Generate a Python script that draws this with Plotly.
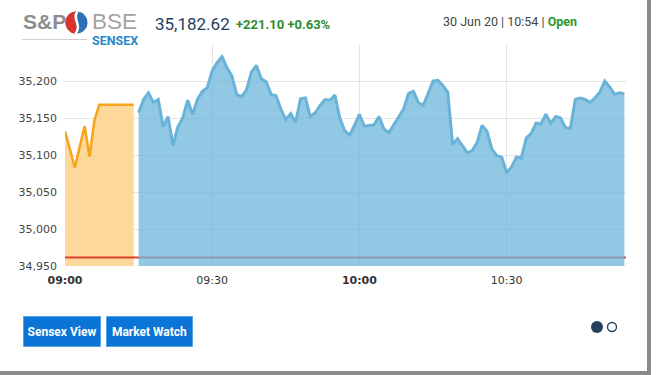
import pandas as pd
import plotly.graph_objects as go

# ---------------- data ----------------
day = "2020-06-30"
pre_open_minutes = [0, 2, 4, 5, 6, 7, 8, 9, 10, 11, 12, 13, 14]
pre_open_values = [35132, 35083, 35139, 35098, 35147, 35168, 35168, 35168,
                   35168, 35168, 35168, 35168, 35168]

session_minutes = list(range(15, 115))
session_values = [
    35157, 35175, 35184, 35171, 35175, 35138, 35152, 35113, 35138, 35150,
    35174, 35155, 35175, 35186, 35191, 35214, 35225, 35233, 35218, 35207,
    35182, 35179, 35188, 35212, 35221, 35203, 35199, 35182, 35180, 35162,
    35148, 35156, 35144, 35176, 35177, 35152, 35157, 35167, 35175, 35174,
    35181, 35150, 35133, 35127, 35140, 35155, 35139, 35140, 35141, 35152,
    35135, 35130, 35141, 35152, 35162, 35183, 35186, 35171, 35167, 35183,
    35200, 35201, 35194, 35185, 35114, 35122, 35113, 35103, 35106, 35117,
    35140, 35132, 35108, 35099, 35097, 35076, 35084, 35097, 35096, 35123,
    35129, 35143, 35142, 35155, 35143, 35152, 35150, 35137, 35136, 35175,
    35177, 35175, 35171, 35177, 35185, 35200, 35192, 35182, 35184, 35182.62,
]

last_price = 35182.62
change = 221.10
change_pct = 0.63
prev_close = round(last_price - change, 2)

y_tick_vals = [34950, 35000, 35050, 35100, 35150, 35200, 35250]
y_tick_text = ["34,950", "35,000", "35,050", "35,100", "35,150", "35,200", ""]
x_tick_labels = ["09:00", "09:30", "10:00", "10:30"]
x_tick_bold = [True, False, True, False]

t0 = pd.Timestamp(f"{day} 09:00")
pre_x = [t0 + pd.Timedelta(minutes=m) for m in pre_open_minutes]
ses_x = [t0 + pd.Timedelta(minutes=m) for m in session_minutes]
x_end = t0 + pd.Timedelta(minutes=114, seconds=20)

# ---------------- geometry helpers ----------------
W, H = 656, 375
L, R, T, B = 65, 30, 44, 109
PW, PH = W - L - R, H - T - B


def px(x):
    return (x - L) / PW


def py(y):
    return (H - B - y) / PH


fig = go.Figure()

# pre-open (orange)
fig.add_trace(go.Scatter(
    x=pre_x, y=pre_open_values, mode="lines", fill="tozeroy",
    fillcolor="rgba(253,214,150,0.95)",
    line=dict(color="#f7a51f", width=2.6), hoverinfo="skip", showlegend=False))

# previous close line
fig.add_trace(go.Scatter(
    x=[pre_x[0], x_end], y=[prev_close, prev_close], mode="lines",
    line=dict(color="#e2402b", width=2), hoverinfo="skip", showlegend=False))

# session (blue)
fig.add_trace(go.Scatter(
    x=ses_x, y=session_values, mode="lines", fill="tozeroy",
    fillcolor="rgba(108,183,219,0.75)",
    line=dict(color="#6ab3d8", width=3), hoverinfo="skip", showlegend=False))

tick_times = [t0 + pd.Timedelta(minutes=30 * i) for i in range(len(x_tick_labels))]
tick_text = [f"<b>{t}</b>" if b else t for t, b in zip(x_tick_labels, x_tick_bold)]

fig.update_layout(
    width=W, height=H,
    margin=dict(l=L, r=R, t=T, b=B, pad=0),
    paper_bgcolor="white", plot_bgcolor="white",
    hovermode=False, showlegend=False,
    font=dict(family="DejaVu Sans", size=11, color="#444"),
    xaxis=dict(
        type="date", range=[t0, x_end],
        tickvals=tick_times, ticktext=tick_text,
        showgrid=True, gridcolor="#e4e4e4", gridwidth=1,
        zeroline=False, showline=False, ticks="",
        ticklabelstandoff=6,
        tickfont=dict(family="DejaVu Sans", size=11, color="#333"),
        fixedrange=True,
    ),
    yaxis=dict(
        range=[34950, 35250],
        tickvals=y_tick_vals, ticktext=y_tick_text,
        showgrid=True, gridcolor="#e4e4e4", gridwidth=1,
        zeroline=False, showline=False, ticks="",
        ticklabelstandoff=7, automargin=False,
        tickfont=dict(family="DejaVu Sans", size=11, color="#444"),
        fixedrange=True,
    ),
)

shapes = []
annotations = []

# logo underline
shapes.append(dict(type="line", xref="paper", yref="paper",
                   x0=px(22), x1=px(87), y0=py(39.5), y1=py(39.5),
                   line=dict(color="#cfcfcf", width=1)))

# logo circle (blue disk with red left half and white swoosh)
cx, cy, r = 76.5, 22.5, 11
shapes.append(dict(type="circle", xref="paper", yref="paper",
                   x0=px(cx - r), x1=px(cx + r), y0=py(cy + r), y1=py(cy - r),
                   fillcolor="#2f6fb5", line=dict(width=0)))
k = 0.5523 * r
left_half = (f"M {px(cx)},{py(cy - r)} "
             f"C {px(cx - k)},{py(cy - r)} {px(cx - r)},{py(cy - k)} {px(cx - r)},{py(cy)} "
             f"C {px(cx - r)},{py(cy + k)} {px(cx - k)},{py(cy + r)} {px(cx - 2)},{py(cy + r)} "
             f"C {px(cx + 4)},{py(cy + 4)} {px(cx - 4)},{py(cy - 4)} {px(cx)},{py(cy - r)} Z")
shapes.append(dict(type="path", xref="paper", yref="paper", path=left_half,
                   fillcolor="#d9342b", line=dict(width=0)))
swoosh = (f"M {px(cx + 1)},{py(cy - r)} "
          f"C {px(cx - 5)},{py(cy - 4)} {px(cx + 6)},{py(cy + 3)} {px(cx - 1)},{py(cy + r)}")
shapes.append(dict(type="path", xref="paper", yref="paper", path=swoosh,
                   line=dict(color="white", width=2.5)))

# pager dots
shapes.append(dict(type="circle", xref="paper", yref="paper",
                   x0=px(591), x1=px(603), y0=py(333), y1=py(321),
                   fillcolor="#24405a", line=dict(width=0)))
shapes.append(dict(type="circle", xref="paper", yref="paper",
                   x0=px(607.5), x1=px(616.5), y0=py(331.5), y1=py(322.5),
                   fillcolor="white", line=dict(color="#24405a", width=1.4)))

# frame edges
shapes.append(dict(type="rect", xref="paper", yref="paper",
                   x0=px(647), x1=px(651), y0=py(375), y1=py(0),
                   fillcolor="#8a8a8a", line=dict(width=0), layer="above"))
shapes.append(dict(type="rect", xref="paper", yref="paper",
                   x0=px(0), x1=px(651), y0=py(375), y1=py(371),
                   fillcolor="#8a8a8a", line=dict(width=0), layer="above"))

annotations += [
    dict(text="<b>S&amp;P</b>", x=px(21), y=py(22), xanchor="left", yanchor="middle",
         font=dict(family="Liberation Sans", size=21, color="#8d8d8d")),
    dict(text="<span style='font-family:Liberation Sans;font-size:22.5px;color:#a3a3a3'>BSE</span>"
              "<br><b>SENSEX</b>",
         x=px(89.5), y=py(28), xanchor="left", yanchor="middle", align="left",
         font=dict(family="Roboto", size=12.5, color="#2a88c8")),
    dict(text=f"{last_price:,.2f}", x=px(153), y=py(24), xanchor="left", yanchor="middle",
         font=dict(family="Roboto", size=17, color="#1d3d5e")),
    dict(text=f"<b>+{change:,.2f} +{change_pct:.2f}%</b>", x=px(234), y=py(25),
         xanchor="left", yanchor="middle",
         font=dict(family="Roboto", size=13, color="#2e8b2e")),
    dict(text="30 Jun 20 | 10:54 | <span style='color:#2a9a2a'><b>Open</b></span>",
         x=px(441), y=py(22), xanchor="left", yanchor="middle",
         font=dict(family="Roboto", size=12.5, color="#444")),
    dict(text="<b>Sensex View</b>", x=px(62), y=py(331.5), xanchor="center", yanchor="middle",
         width=76, height=29, bgcolor="#0b74d7", bordercolor="#5aa3e3", borderwidth=1,
         borderpad=0, font=dict(family="Roboto", size=12, color="white")),
    dict(text="<b>Market Watch</b>", x=px(149.5), y=py(331.5), xanchor="center", yanchor="middle",
         width=85, height=29, bgcolor="#0b74d7", bordercolor="#5aa3e3", borderwidth=1,
         borderpad=0, font=dict(family="Roboto", size=12, color="white")),
]
for a in annotations:
    a.update(xref="paper", yref="paper", showarrow=False)

fig.update_layout(shapes=shapes, annotations=annotations)

fig.write_html("out.html", config={"displayModeBar": False},
               post_script="document.body.style.margin='0';document.body.style.padding='0';")
